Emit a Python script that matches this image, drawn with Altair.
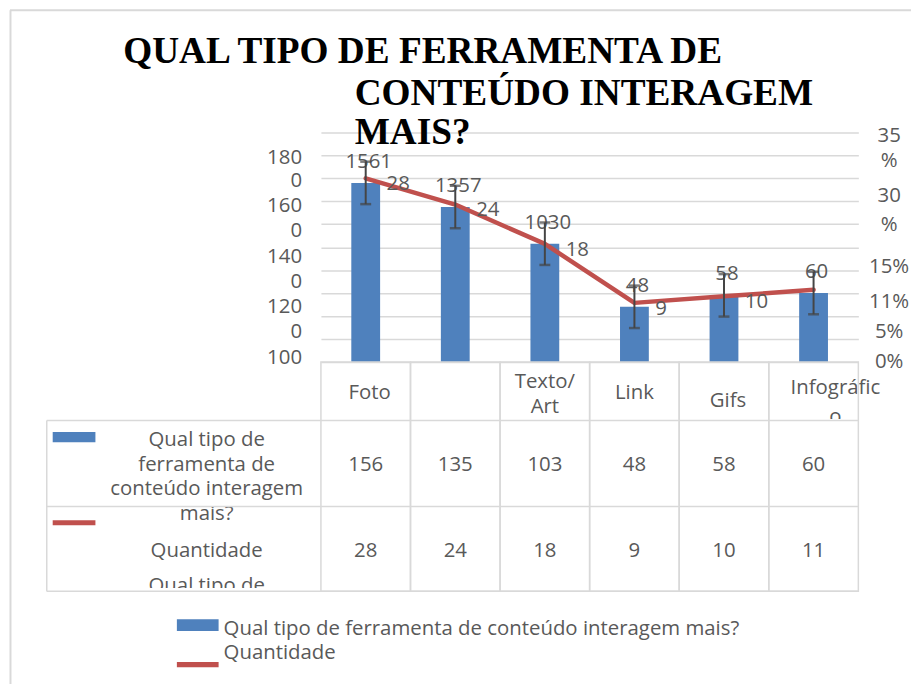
import altair as alt
import pandas as pd

# ---------------- data ----------------
categories = ["Foto", "Vídeo", "Texto/Art", "Link", "Gifs", "Infográfico"]
header_labels = ["Foto", "", "Texto/\nArt", "Link", "Gifs", "Infográfic\no"]
bar_values = [156, 135, 103, 48, 58, 60]
line_values = [28, 24, 18, 9, 10, 11]
bar_error = [18.5, 18.5, 18.5, 18.5, 18.5, 18.5]
bar_labels = ["1561", "1357", "1030", "48", "58", "60"]
line_labels = ["28", "24", "18", "9", "10", ""]
left_tick_text = ["180", "0", "160", "0", "140", "0", "120", "0", "100"]
left_tick_pos = [177.7, 157.8, 135.9, 114.3, 91.8, 69.5, 47.9, 26.0, 3.2]
right_tick_text = ["35", "%", "30", "%", "15%", "11%", "5%", "0%"]
right_tick_pos = [34.4, 30.6, 25.3, 20.9, 14.4, 9.2, 4.6, 0.0]
series_names = ["Qual tipo de ferramenta de conteúdo interagem mais?", "Quantidade"]
title_lines = ["QUAL TIPO DE FERRAMENTA DE", "CONTEÚDO INTERAGEM", "MAIS?"]
row_label_lines = ["Qual tipo de", "ferramenta de", "conteúdo interagem", "mais?",
                   "Quantidade", "Qual tipo de"]

# ---------------- style ----------------
GREY = "#595959"
GRID = "#D9D9D9"
TBL = "#D9D9D9"
BLUE = "#4F81BD"
RED = "#C0504D"
EB = "#454545"
FONT = "Open Sans"
FS = 20.5

# plot area placement on the page
X0, Y0, W, H = 323, 131, 541, 231


def px(x):
    return x - X0


def py(y):
    return y - Y0


df = pd.DataFrame({
    "idx": list(range(len(categories))),
    "cat": categories,
    "bars": bar_values,
    "line": line_values,
    "err": bar_error,
    "bar_label": bar_labels,
    "line_label": line_labels,
})
df["lo"] = df["bars"] - df["err"]
df["hi"] = df["bars"] + df["err"]

dummy = pd.DataFrame({"k": [0]})

xenc = alt.X("cat:N", scale=alt.Scale(domain=categories, paddingInner=0, paddingOuter=0), axis=None)


def yL(field, axis=None):
    return alt.Y(field, scale=alt.Scale(domain=[0, 200], nice=False, zero=False), axis=axis)


def yR(field):
    return alt.Y(field, scale=alt.Scale(domain=[0, 35], nice=False, zero=False), axis=None)


def T(text, x, y, size=FS, align="center", baseline="middle", color=GREY, font=FONT,
      weight="normal"):
    return alt.Chart(dummy).mark_text(
        text=text, align=align, baseline=baseline, fontSize=size, font=font,
        fontWeight=weight, color=color
    ).encode(x=alt.value(px(x)), y=alt.value(py(y)))


def R(x1, y1, x2, y2, color=TBL, w=1.5):
    return alt.Chart(dummy).mark_rule(color=color, strokeWidth=w).encode(
        x=alt.value(px(x1)), x2=alt.value(px(x2)), y=alt.value(py(y1)), y2=alt.value(py(y2)))


def B(x1, y1, x2, y2, color):
    return alt.Chart(dummy).mark_rect(color=color).encode(
        x=alt.value(px(x1)), x2=alt.value(px(x2)), y=alt.value(py(y1)), y2=alt.value(py(y2)))


base = alt.Chart(df)
layers = []

# outer frame
layers.append(R(10, 8, 919, 8, GRID, 2))
layers.append(R(10.5, 8, 10.5, 692, GRID, 2))

# bars with gridlines
grid_axis = alt.Axis(values=list(range(0, 201, 20)), grid=True, gridColor=GRID, gridWidth=1.5,
                     labels=False, ticks=False, domain=False, title=None)
layers.append(base.mark_bar(color=BLUE, width=29).encode(x=xenc, y=yL("bars:Q", grid_axis)))

# table: header texts (y = first line)
header_y = [393, 393, 382, 393, 401.5, 388]
header_dx = [4, 0, 0, 0, 4, 22]
header_lh = [25, 25, 25, 25, 25, 30]
for c, lab, hy, hdx, lh in zip(categories, header_labels, header_y, header_dx, header_lh):
    if lab:
        layers.append(
            alt.Chart(pd.DataFrame({"cat": [c]})).mark_text(
                text=lab, lineBreak="\n", lineHeight=lh, fontSize=FS, font=FONT, color=GREY,
                align="center", baseline="middle", dx=hdx
            ).encode(x=xenc, y=alt.value(py(hy)))
        )

# table values
layers.append(base.mark_text(fontSize=FS, font=FONT, color=GREY).encode(
    x=xenc, y=alt.value(py(466)), text="bars:Q"))
layers.append(base.mark_text(fontSize=FS, font=FONT, color=GREY).encode(
    x=xenc, y=alt.value(py(552)), text="line:Q"))

# row label texts + keys
for line, ly in zip(row_label_lines, [441, 466, 490, 515, 552, 588]):
    layers.append(T(line, 208, ly))
layers.append(B(53, 432.5, 96, 443, BLUE))
layers.append(B(53, 521.5, 96, 526.5, RED))

# masks (cell clipping)
layers.append(B(100, 589.5, 320, 606, "white"))
layers.append(B(790, 419.5, 862, 440, "white"))

# table grid lines
layers.append(alt.Chart(df).mark_rect(fillOpacity=0, stroke=TBL, strokeWidth=1.5).encode(
    x=xenc, y=alt.value(py(362)), y2=alt.value(py(593))))
for ry in [421, 507.5, 593]:
    layers.append(R(47, ry, 864, ry))
layers.append(R(47, 421, 47, 593))

# line series
layers.append(base.mark_line(color=RED, strokeWidth=4.5, strokeJoin="round", strokeCap="round").encode(
    x=xenc, y=yR("line:Q"), order="idx:Q"))

# data labels
layers.append(base.mark_text(fontSize=FS, font=FONT, color=GREY, dx=3, dy=-21).encode(
    x=xenc, y=yL("bars:Q"), text="bar_label:N"))
layers.append(base.transform_filter(alt.datum.line_label != "").mark_text(
    fontSize=FS, font=FONT, color=GREY, align="left", dx=21, dy=6).encode(
    x=xenc, y=yR("line:Q"), text="line_label:N"))

# error bars
layers.append(base.mark_rule(color=EB, strokeWidth=2).encode(x=xenc, y=yL("lo:Q"), y2="hi:Q"))
layers.append(base.mark_tick(color=EB, thickness=2.5, size=11).encode(x=xenc, y=yL("lo:Q")))
layers.append(base.mark_tick(color=EB, thickness=2.5, size=11).encode(x=xenc, y=yL("hi:Q")))

# axis labels
left_df = pd.DataFrame({"text": left_tick_text, "pos": left_tick_pos})
right_df = pd.DataFrame({"text": right_tick_text, "pos": right_tick_pos})
layers.append(alt.Chart(left_df).mark_text(fontSize=FS, font=FONT, color=GREY, align="right").encode(
    x=alt.value(px(304)), y=yL("pos:Q"), text="text:N"))
layers.append(alt.Chart(right_df).mark_text(fontSize=FS, font=FONT, color=GREY, align="center").encode(
    x=alt.value(px(895)), y=yR("pos:Q"), text="text:N"))

# title
for t, tx, ty in zip(title_lines, [124, 357, 357], [61, 103, 143]):
    layers.append(T(t, tx, ty, size=37.5, align="left", baseline="alphabetic", color="black",
                    font="Liberation Serif", weight="bold"))

# legend
layers.append(B(178, 621, 220, 633, BLUE))
layers.append(B(178, 664, 220, 669.5, RED))
layers.append(T(series_names[0], 225, 637, size=FS, align="left", baseline="alphabetic"))
layers.append(T(series_names[1], 225, 661, size=FS, align="left", baseline="alphabetic"))

chart = alt.layer(*layers).resolve_scale(y="independent").properties(
    width=W, height=H,
    autosize=alt.AutoSizeParams(type="none"),
    padding={"left": X0 - 8, "top": Y0 - 8, "right": 917 - (X0 + W), "bottom": 684 - (Y0 + H)},
    background="white",
).configure_view(stroke=None)

chart.save("out.html", embed_options={"renderer": "svg", "actions": False})
